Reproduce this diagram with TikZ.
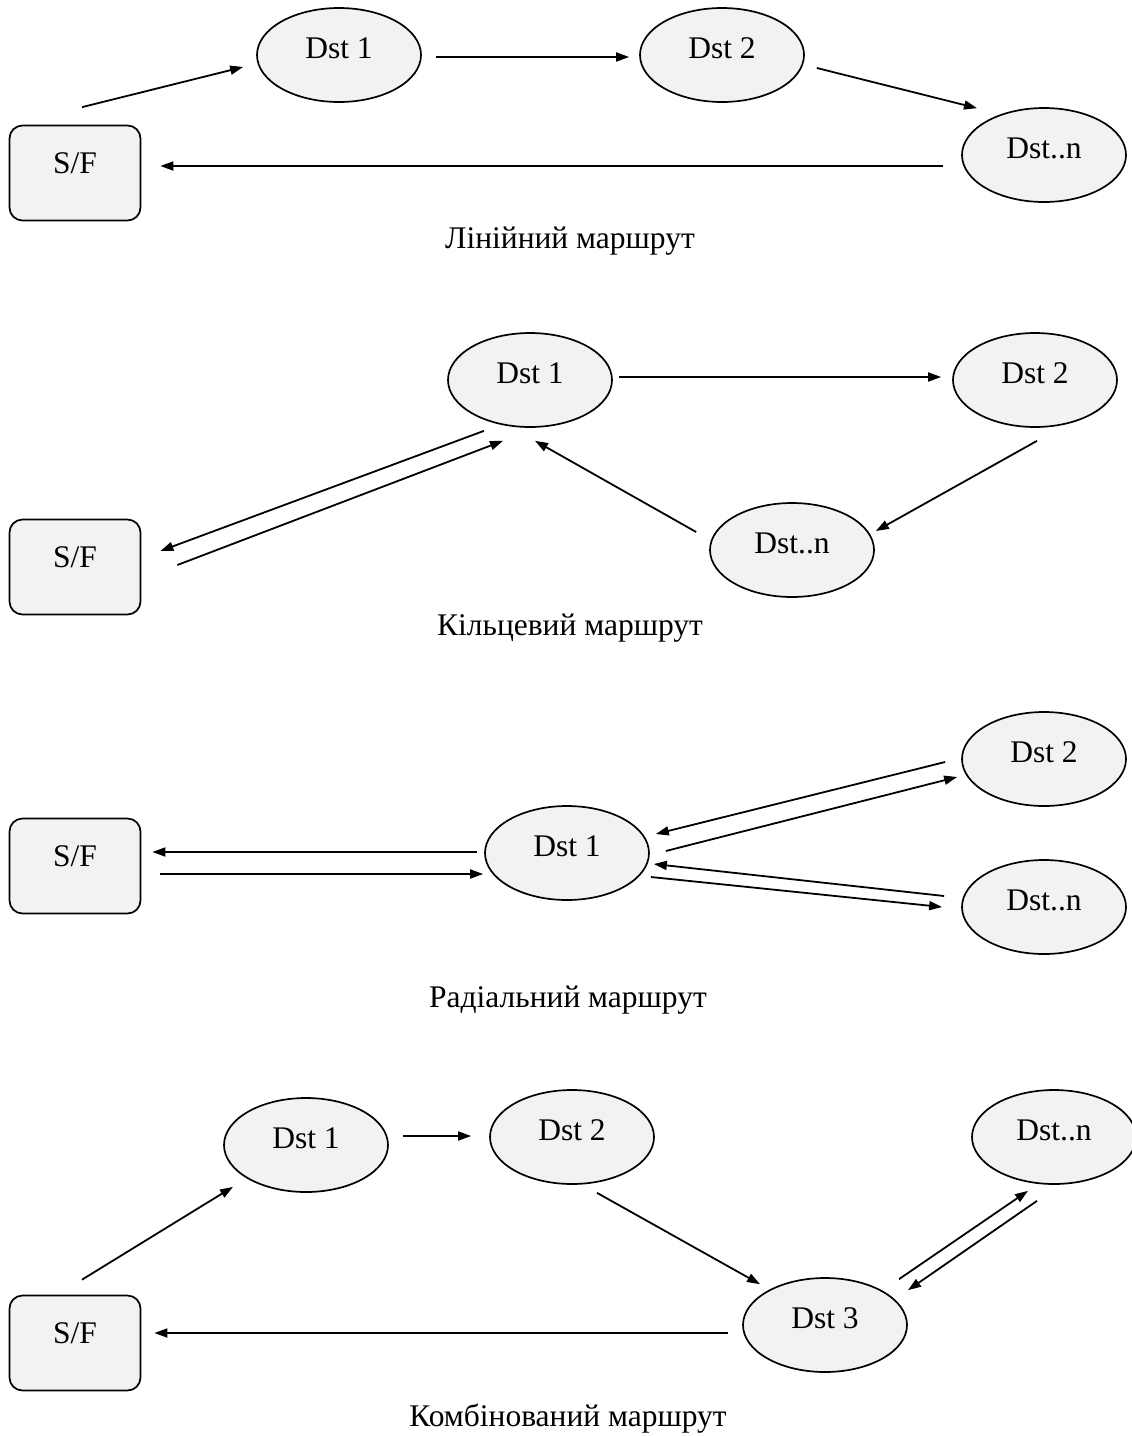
\documentclass[tikz,border=0pt]{standalone}
\usepackage{fontspec}
\setmainfont{Liberation Serif}
\usetikzlibrary{arrows.meta, shapes.geometric}

\begin{document}
\begin{tikzpicture}[x=1pt, y=-1pt,
  dst/.style={ellipse, draw, line width=1.7pt, fill=black!5, minimum width=164pt, minimum height=94pt, inner sep=0pt, text height=21pt, text depth=15pt},
  sf/.style={rectangle, rounded corners=13pt, draw, line width=1.7pt, fill=black!5, minimum width=131pt, minimum height=95pt, inner sep=0pt, text height=21pt, text depth=21pt},
  arr/.style={-{Triangle[length=13pt, width=9pt]}, line width=1.8pt},
  caption/.style={inner sep=0pt, anchor=base},
  every node/.style={font=\fontsize{31.5}{36}\selectfont}]
\useasboundingbox (0,0) rectangle (1132,1436);

% linear route
\node[sf] (sfA) at (75,173) {S/F};
\node[dst] (dA1) at (339,55) {Dst 1};
\node[dst] (dA2) at (722,55) {Dst 2};
\node[dst] (dAn) at (1044,155) {Dst..n};
\draw[arr] ([xshift=7pt, yshift=17.5pt]sfA.north) -- ([xshift=-13pt, yshift=-12pt]dA1.west);
\draw[arr] ([xshift=14pt, yshift=-2pt]dA1.east) -- ([xshift=-10pt, yshift=-2pt]dA2.west);
\draw[arr] ([xshift=12pt, yshift=-13pt]dA2.east) -- ([xshift=-67pt, yshift=-1pt]dAn.north);
\draw[arr] ([xshift=-18pt, yshift=-11pt]dAn.west) -- ([xshift=19pt, yshift=7pt]sfA.east);
\node[caption] (capA) at (570,248) {Лінійний маршрут};

% ring route
\node[sf] (sfB) at (75,567) {S/F};
\node[dst] (dB1) at (530,380) {Dst 1};
\node[dst] (dB2) at (1035,380) {Dst 2};
\node[dst] (dBn) at (792,550) {Dst..n};
\draw[arr] ([xshift=6pt, yshift=3pt]dB1.east) -- ([xshift=-11pt, yshift=3pt]dB2.west);
\draw[arr] ([xshift=2pt, yshift=-13pt]dB2.south) -- ([xshift=1pt, yshift=19pt]dBn.east);
\draw[arr] ([xshift=-13pt, yshift=18pt]dBn.west) -- ([xshift=5pt, yshift=-13pt]dB1.south);
\draw[arr] ([xshift=-46pt, yshift=-3pt]dB1.south) -- ([xshift=19pt, yshift=16pt]sfB.east);
\draw[arr] ([xshift=36pt, yshift=2pt]sfB.east) -- ([xshift=-27pt, yshift=-13pt]dB1.south);
\node[caption] (capB) at (570,635) {Кільцевий маршрут};

% radial route
\node[sf] (sfC) at (75,866) {S/F};
\node[dst] (dC1) at (567,853) {Dst 1};
\node[dst] (dC2) at (1044,759) {Dst 2};
\node[dst] (dCn) at (1044,907) {Dst..n};
\draw[arr] ([xshift=-7pt, yshift=1pt]dC1.west) -- ([xshift=11pt, yshift=14pt]sfC.east);
\draw[arr] ([xshift=19pt, yshift=-8pt]sfC.east) -- ([xshift=-1pt, yshift=-21pt]dC1.west);
\draw[arr] ([xshift=-16pt, yshift=-3pt]dC2.west) -- ([xshift=6pt, yshift=19pt]dC1.east);
\draw[arr] ([xshift=16pt, yshift=2pt]dC1.east) -- ([xshift=-4pt, yshift=-18pt]dC2.west);
\draw[arr] ([xshift=-17pt, yshift=11pt]dCn.west) -- ([xshift=4pt, yshift=-11pt]dC1.east);
\draw[arr] ([xshift=1pt, yshift=-24pt]dC1.east) -- ([xshift=-19pt, yshift=0pt]dCn.west);
\node[caption] (capC) at (568,1007) {Радіальний маршрут};

% combined route
\node[sf] (sfD) at (75,1343) {S/F};
\node[dst] (dD1) at (306,1145) {Dst 1};
\node[dst] (dD2) at (572,1137) {Dst 2};
\node[dst] (dDn) at (1054,1137) {Dst..n};
\node[dst] (dD3) at (825,1325) {Dst 3};
\draw[arr] ([xshift=7pt, yshift=15pt]sfD.north) -- ([xshift=-73pt, yshift=6pt]dD1.south);
\draw[arr] ([xshift=14pt, yshift=9pt]dD1.east) -- ([xshift=-18pt, yshift=1pt]dD2.west);
\draw[arr] ([xshift=25pt, yshift=-8pt]dD2.south) -- ([xshift=-65pt, yshift=-7pt]dD3.north);
\draw[arr] ([xshift=74pt, yshift=-2pt]dD3.north) -- ([xshift=-26pt, yshift=-6pt]dDn.south);
\draw[arr] ([xshift=-17pt, yshift=-16pt]dDn.south) -- ([xshift=83pt, yshift=-13pt]dD3.north);
\draw[arr] ([xshift=-14pt, yshift=-8pt]dD3.west) -- ([xshift=13pt, yshift=10pt]sfD.east);
\node[caption] (capD) at (568,1426) {Комбінований маршрут};
\end{tikzpicture}
\end{document}
